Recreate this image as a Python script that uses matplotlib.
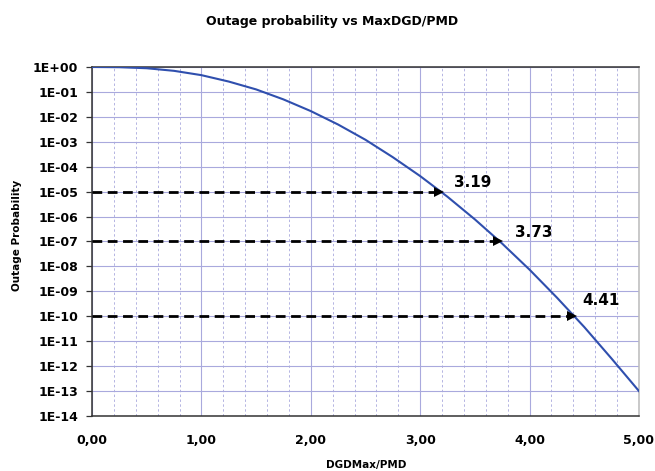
import matplotlib
matplotlib.use("Agg")
import matplotlib.pyplot as plt
from matplotlib.ticker import FixedLocator, MultipleLocator, FuncFormatter
import numpy as np

# curve (DGDmax/PMD ratio -> outage probability)
ratio = [0.0, 0.25, 0.5, 0.75, 1.0, 1.25, 1.5, 1.75, 2.0, 2.25, 2.5, 2.75,
         3.0, 3.25, 3.5, 3.75, 4.0, 4.25, 4.5, 4.75, 5.0]
outage = [1.0, 0.98, 0.89, 0.70, 0.47, 0.26, 0.126, 0.050, 0.017, 4.9e-3,
          1.2e-3, 2.4e-4, 4.2e-5, 6.2e-6, 7.7e-7, 8.2e-8, 7.4e-9, 5.6e-10,
          3.7e-11, 2.0e-12, 1.0e-13]

# marked points
mark_x = [3.19, 3.73, 4.41]
mark_y = [1e-5, 1e-7, 1e-10]
mark_txt = ["3.19", "3.73", "4.41"]
txt_x = [3.31, 3.87, 4.48]
txt_y = [10**-4.64, 10**-6.64, 10**-9.36]

plt.rcParams['font.family'] = ['DejaVu Sans']
plt.rcParams['font.weight'] = 'bold'

fig = plt.figure(figsize=(6.55, 4.71), dpi=100)
ax = fig.add_axes([0.1405, 0.1168, 0.835, 0.741])

ax.set_yscale('log')
ax.set_xlim(0, 5)
ax.set_ylim(1e-14, 1)

grid_c = '#a9a9dd'
ax.xaxis.set_major_locator(MultipleLocator(1))
ax.xaxis.set_minor_locator(MultipleLocator(0.2))
ax.yaxis.set_major_locator(FixedLocator([10.0**-i for i in range(15)]))
ax.yaxis.set_minor_locator(FixedLocator([]))
ax.grid(True, which='major', axis='both', color=grid_c, lw=0.8)
ax.grid(True, which='minor', axis='x', color='#b4b4e2', lw=0.7, ls=(0, (2.5, 2.5)))
ax.set_axisbelow(True)

ax.xaxis.set_major_formatter(FuncFormatter(lambda v, p: f"{v:.2f}".replace('.', ',')))
ax.yaxis.set_major_formatter(FuncFormatter(
    lambda v, p: "1E+00" if v >= 1 else f"1E-{int(round(-np.log10(v))):02d}"))

ax.tick_params(axis='y', which='major', length=4, width=0.9, color='#333333',
               labelsize=9, pad=6)
ax.tick_params(axis='x', which='major', length=0, labelsize=9, pad=13)
ax.tick_params(axis='x', which='minor', length=0)

for s in ['left', 'bottom', 'top']:
    ax.spines[s].set_color('#333333')
    ax.spines[s].set_linewidth(1.1)
ax.spines['right'].set_color('#bbbbbb')
ax.spines['right'].set_linewidth(1.1)

ax.plot(ratio, outage, color='#2f4fae', lw=1.5, zorder=3)

for x, y, t, tx, ty in zip(mark_x, mark_y, mark_txt, txt_x, txt_y):
    ax.plot([0, x - 0.03], [y, y], color='black', lw=2, ls=(0, (3.5, 2)), zorder=4)
    ax.plot([x - 0.02], [y], marker='>', color='black', ms=7, mew=0, zorder=5)
    ax.text(tx, ty, t, fontsize=11, fontweight='bold', va='center', ha='left')

fig.text(0.507, 1 - 22 / 471, "Outage probability vs MaxDGD/PMD", ha='center',
         va='center', fontsize=9, fontweight='bold')
fig.text(0.5585, 1 - 465 / 471, "DGDMax/PMD", ha='center', va='center',
         fontsize=7.5, fontweight='bold')
fig.text(17 / 655, 0.5, "Outage Probability", ha='center', va='center',
         rotation=90, fontsize=7.5, fontweight='bold')

fig.savefig("out.png", dpi=100)
